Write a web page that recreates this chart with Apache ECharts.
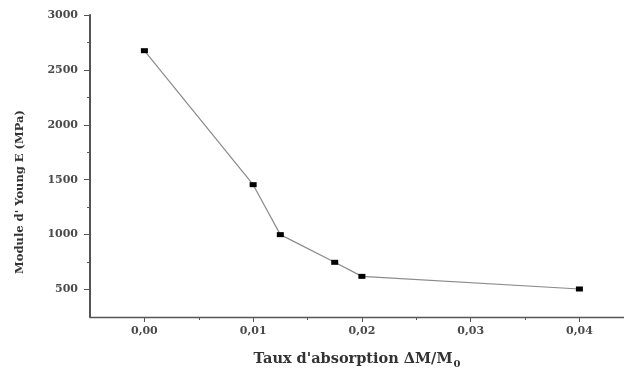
<!DOCTYPE html>
<html><head><meta charset="utf-8">
<script src="https://cdn.jsdelivr.net/npm/echarts@6/dist/echarts.min.js"></script>
<style>html,body{margin:0;padding:0;background:#fff}#c{width:624px;height:371px}</style>
</head><body><div id="c"></div>
<script>
var absorption = [0.000, 0.010, 0.0125, 0.0175, 0.020, 0.040];
var modulus = [2675, 1455, 1000, 748, 620, 505];
var xMajor = [0, 0.01, 0.02, 0.03, 0.04];
var xMinor = [0.005, 0.015, 0.025, 0.035];
var yMajor = [500, 1000, 1500, 2000, 2500, 3000];
var yMinor = [750, 1250, 1750, 2250, 2750];
var xTitle = "Taux d'absorption \u0394M/M";
var yTitle = "Module d' Young E (MPa)";

var font = 'DejaVu Serif';
var txt = '#4a4a4a';
var chart = echarts.init(document.getElementById('c'));
chart.setOption({
  animation: false,
  backgroundColor: '#fff',
  grid: {left: 90, right: 0, top: 15, bottom: 54, containLabel: false, outerBoundsMode: 'none'},
  xAxis: [{
    type: 'value', min: -0.005, max: 0.0441,
    axisLine: {show: true, onZero: false, lineStyle: {color: '#555', width: 1.3}},
    axisTick: {show: true, customValues: xMajor, length: 5, lineStyle: {color: '#555'}},
    axisLabel: {customValues: xMajor, formatter: function (v) { return v.toFixed(2).replace('.', ','); },
      fontFamily: font, fontWeight: 'bold', fontSize: 11, color: txt, margin: 9},
    splitLine: {show: false},
    name: '{t|' + xTitle + '}{s|0}', nameLocation: 'middle', nameGap: 33,
    nameTextStyle: {rich: {
      t: {fontFamily: font, fontWeight: 'bold', fontSize: 14.5, color: '#333'},
      s: {fontFamily: font, fontWeight: 'bold', fontSize: 10, color: '#333', padding: [9, 0, 0, 1]}
    }}
  }, {
    type: 'value', min: -0.005, max: 0.0441, position: 'bottom',
    axisLine: {show: false, onZero: false},
    axisTick: {show: true, customValues: xMinor, length: 3, lineStyle: {color: '#555'}},
    axisLabel: {show: false}, splitLine: {show: false}
  }],
  yAxis: [{
    type: 'value', min: 250, max: 3000,
    axisLine: {show: true, onZero: false, lineStyle: {color: '#555', width: 2}},
    axisTick: {show: true, customValues: yMajor, length: 6, lineStyle: {color: '#555'}},
    axisLabel: {customValues: yMajor, formatter: function (v) { return String(v); },
      fontFamily: font, fontWeight: 'bold', fontSize: 11, color: txt, margin: 12},
    splitLine: {show: false}
  }, {
    type: 'value', min: 250, max: 3000, position: 'left',
    axisLine: {show: false, onZero: false},
    axisTick: {show: true, customValues: yMinor, length: 3, lineStyle: {color: '#555'}},
    axisLabel: {show: false}, splitLine: {show: false}
  }],
  graphic: [{
    type: 'text', left: 14, top: 110, rotation: Math.PI / 2,
    style: {text: yTitle, fontFamily: font, fontWeight: 'bold', fontSize: 11.5, fill: '#333'}
  }],
  series: [{
    type: 'line',
    data: absorption.map(function (x, i) { return [x, modulus[i]]; }),
    symbol: 'rect', symbolSize: [7, 5],
    itemStyle: {color: '#000'},
    lineStyle: {color: '#8a8a8a', width: 1.2}
  }]
});
</script></body></html>
